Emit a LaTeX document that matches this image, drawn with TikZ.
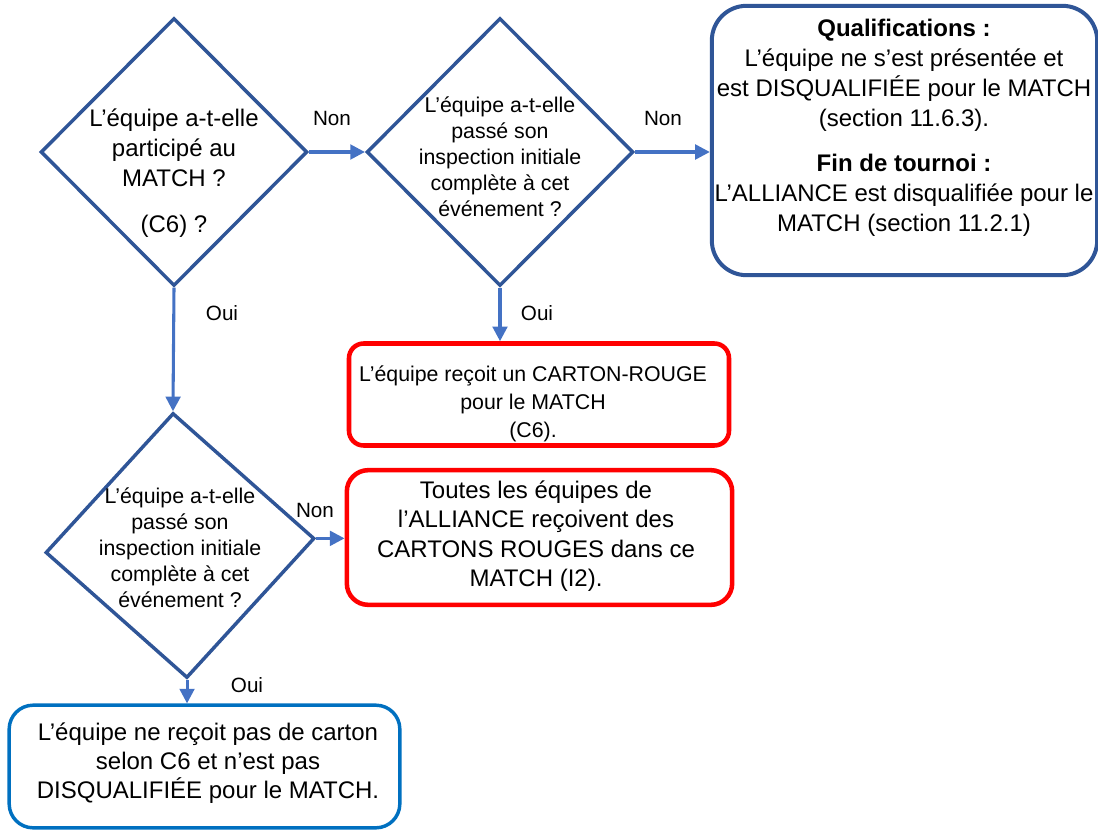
\documentclass[tikz,border=0pt]{standalone}
\usepackage{fontspec}
\setmainfont{Liberation Sans}
\usetikzlibrary{shapes.geometric, arrows.meta, positioning}
\definecolor{DiaBlue}{HTML}{2F5597}
\definecolor{ArrBlue}{HTML}{4472C4}
\definecolor{BoxBlue}{HTML}{0070C0}
\definecolor{CardRed}{HTML}{FF0000}

\begin{document}
\begin{tikzpicture}[x=0.75pt, y=-0.75pt,
	dia/.style={diamond, draw=DiaBlue, line width=2.6pt, inner sep=0pt, minimum width=200pt, minimum height=201pt},
	dtext/.style={align=center, font=\fontsize{16}{19.5}\selectfont},
	rbox/.style={rectangle, rounded corners=#1, inner sep=0pt},
	btext/.style={align=center, font=\fontsize{18}{22.5}\selectfont},
	flow/.style={ArrBlue, line width=2.3pt, -{Triangle[length=11pt, width=11pt]}},
	lbl/.style={font=\fontsize{15.5}{18}\selectfont}]
	\useasboundingbox (0,0) rectangle (1098,831);
	
	% questions
	\node[dia] (q1) at (174,152) {};
	\node[dtext, font=\fontsize{18}{22.5}\selectfont] (q1t) at (174,173) {L’équipe a-t-elle\\participé au\\MATCH ?\\[12pt](C6) ?};
	
	\node[dia] (q2) at (500,152) {};
	\node[dtext] (q2t) at (500,157) {L’équipe a-t-elle\\passé son\\inspection initiale\\complète à cet\\événement ?};
	
	\node[dia, rotate=3, minimum width=202pt, minimum height=199pt] (q3) at (180,545.5) {};
	\node[dtext] (q3t) at (180,548) {L’équipe a-t-elle\\passé son\\inspection initiale\\complète à cet\\événement ?};
	
	% outcomes
	\node[rbox=26pt, draw=DiaBlue, line width=3pt, minimum width=289pt, minimum height=202pt] (qual) at (904.5,140.5) {};
	\node[btext] (qualt) at (904,128) {{\bfseries Qualifications :}\\L’équipe ne s’est présentée et\\est DISQUALIFIÉE pour le MATCH\\(section 11.6.3).\\[11pt]{\bfseries Fin de tournoi :}\\L’ALLIANCE est disqualifiée pour le\\MATCH (section 11.2.1)};
	
	\node[rbox=11pt, draw=CardRed, line width=3.4pt, minimum width=285pt, minimum height=76.5pt] (red1) at (539,394.5) {};
	\node[btext, font=\fontsize{16}{21}\selectfont] (red1t) at (533,404) {L’équipe reçoit un CARTON-ROUGE\\pour le MATCH\\(C6).};
	
	\node[rbox=16pt, draw=CardRed, line width=3.4pt, minimum width=289pt, minimum height=101pt] (red2) at (539.5,537.5) {};
	\node[btext, font=\fontsize{18}{22}\selectfont] (red2t) at (536,536) {Toutes les équipes de\\l’ALLIANCE reçoivent des\\CARTONS ROUGES dans ce\\MATCH (I2).};
	
	\node[rbox=18pt, draw=BoxBlue, line width=2.6pt, minimum width=293pt, minimum height=92pt] (ok) at (204.5,766.5) {};
	\node[btext, font=\fontsize{18}{22}\selectfont] (okt) at (208,763) {L’équipe ne reçoit pas de carton\\selon C6 et n’est pas\\DISQUALIFIÉE pour le MATCH.};
	
	% connectors
	\draw[flow] (q1.east) -- (q2.west);
	\draw[flow] (q2.east) -- (q2.east -| qual.west);
	\draw[flow] (q2.south) -- (q2.south |- red1.north);
	\draw[flow] (q1.south) -- (q3.north);
	\draw[flow] (q3.east) -- (q3.east -| red2.west);
	\draw[flow] (q3.south) -- (q3.south |- ok.north);
	
	\node[lbl] (non1) at (332,118) {Non};
	\node[lbl] (non2) at (663,118) {Non};
	\node[lbl] (oui1) at (222,313) {Oui};
	\node[lbl] (oui2) at (537,313) {Oui};
	\node[lbl] (non3) at (315,510) {Non};
	\node[lbl] (oui3) at (247,685) {Oui};
\end{tikzpicture}
\end{document}
